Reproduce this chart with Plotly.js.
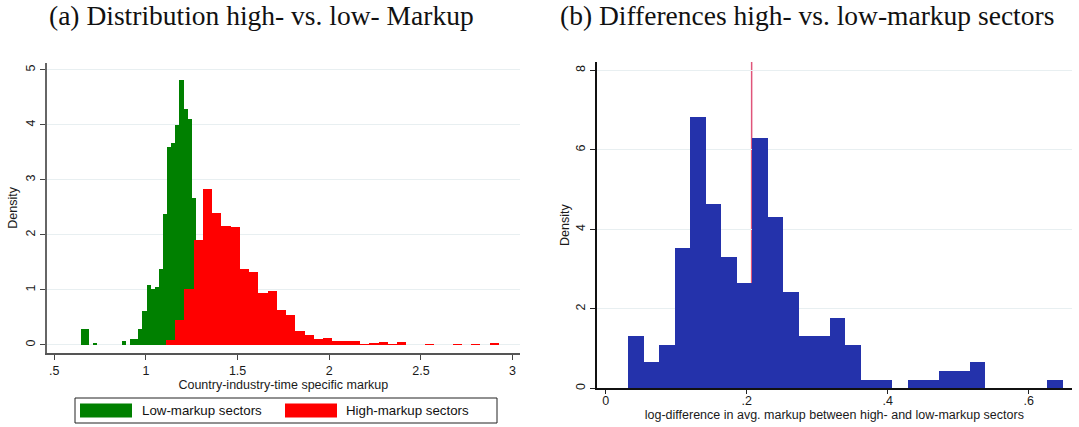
<!DOCTYPE html>
<html>
<head>
<meta charset="utf-8">
<script src="https://cdn.plot.ly/plotly-3.0.1.min.js"></script>
<style>
  html, body { margin: 0; padding: 0; background: #ffffff; }
  #chart { width: 1079px; height: 427px; }
</style>
</head>
<body>
<div id="chart"></div>
<script>
// ---- Data ----
// Panel (a): low-markup sectors histogram (density), bins start / width
const lowBinStart = 0.645;
const lowBinWidth = 0.0224;
const lowDensity = [0.297, 0.297, 0, 0.036, 0, 0, 0, 0, 0, 0, 0.073, 0, 0.109, 0.109, 0.29, 0.618,
  1.09, 1.018, 1.055, 1.38, 2.38, 3.6, 3.67, 4.0, 4.82, 4.29, 4.11, 2.67];

// Panel (a): high-markup sectors histogram (density)
const highBinStart = 1.109;
const highBinWidth = 0.05045;
const highDensity = [0.09, 0.46, 1.018, 1.91, 2.84, 2.4, 2.17, 2.145, 1.38, 1.33, 0.945, 0.99,
  0.64, 0.545, 0.255, 0.18, 0.109, 0.133, 0.073, 0.073, 0.073, 0.018, 0.036, 0.055, 0.018, 0.055,
  0, 0, 0.018, 0, 0, 0.018, 0, 0.018, 0, 0.036];

// Panel (b): log-difference histogram (density)
const diffBinStart = 0.0317;
const diffBinWidth = 0.02203;
const diffDensity = [1.317, 0.66, 1.09, 3.53, 6.83, 4.64, 3.30, 2.66, 6.30, 4.31, 2.42, 1.317,
  1.317, 1.77, 1.09, 0.21, 0.21, 0, 0.21, 0.21, 0.436, 0.436, 0.66, 0, 0, 0, 0, 0.21];
const diffMean = 0.207;

// Tick labels
const ticksA = [0.5, 1, 1.5, 2, 2.5, 3];
const tickTextA = ['.5', '1', '1.5', '2', '2.5', '3'];
const yTicksA = [0, 1, 2, 3, 4, 5];
const ticksB = [0, 0.2, 0.4, 0.6];
const tickTextB = ['0', '.2', '.4', '.6'];
const yTicksB = [0, 2, 4, 6, 8];

// Text
const titleA = '(a) Distribution high- vs. low- Markup';
const titleB = '(b) Differences high- vs. low-markup sectors';
const xTitleA = 'Country-industry-time specific markup';
const xTitleB = 'log-difference in avg. markup between high- and low-markup sectors';
const yTitle = 'Density';
const legendLabels = ['Low-markup sectors', 'High-markup sectors'];

// ---- Helpers ----
function centers(start, width, n) {
  const c = [];
  for (let i = 0; i < n; i++) c.push(start + width * (i + 0.5));
  return c;
}

const W = 1079, H = 427;
const px = x => x / W;
const py = y => 1 - y / H;

const GREEN = '#008000', RED = '#ff0000', BLUE = '#2432ab';
const SANS = 'Liberation Sans, Arial, sans-serif';
const SERIF = 'Liberation Serif, Times New Roman, serif';

const traces = [
  {
    type: 'bar', name: legendLabels[0],
    x: centers(lowBinStart, lowBinWidth, lowDensity.length), y: lowDensity,
    width: lowBinWidth, marker: { color: GREEN, line: { width: 0 } },
    xaxis: 'x', yaxis: 'y', showlegend: false, hoverinfo: 'x+y'
  },
  {
    type: 'bar', name: legendLabels[1],
    x: centers(highBinStart, highBinWidth, highDensity.length), y: highDensity,
    width: highBinWidth, marker: { color: RED, line: { width: 0 } },
    xaxis: 'x', yaxis: 'y', showlegend: false, hoverinfo: 'x+y'
  },
  {
    type: 'bar', name: 'log-difference',
    x: centers(diffBinStart, diffBinWidth, diffDensity.length), y: diffDensity,
    width: diffBinWidth, marker: { color: BLUE, line: { width: 0 } },
    xaxis: 'x2', yaxis: 'y2', showlegend: false, hoverinfo: 'x+y'
  }
];

const tickFont = { family: SANS, size: 12.5, color: '#1a1a1a' };
const titleFont = { family: SANS, size: 12.5, color: '#1a1a1a' };
const GRID = '#e8eff1';

const layout = {
  width: W, height: H,
  margin: { l: 0, r: 0, t: 0, b: 0 },
  paper_bgcolor: '#ffffff', plot_bgcolor: '#ffffff',
  barmode: 'overlay', bargap: 0,
  showlegend: false,
  xaxis: {
    domain: [px(46.7), px(520)], range: [0.4585, 3.0407], anchor: 'y',
    tickvals: ticksA, ticktext: tickTextA, tickfont: tickFont,
    ticks: 'outside', ticklen: 5, tickcolor: '#444', tickwidth: 1,
    showline: true, linecolor: '#555', linewidth: 1.3,
    showgrid: false, zeroline: false, fixedrange: true,
    title: { text: xTitleA, font: titleFont, standoff: 3 }
  },
  yaxis: {
    domain: [py(353.3), py(62.5)], range: [-0.151, 5.136], anchor: 'x',
    tickvals: yTicksA, tickfont: tickFont, tickangle: -90,
    ticks: 'outside', ticklen: 5, tickcolor: '#444', tickwidth: 1,
    showline: true, linecolor: '#666', linewidth: 1.3,
    showgrid: true, gridcolor: GRID, gridwidth: 1, zeroline: false, fixedrange: true,
    title: { text: yTitle, font: titleFont, standoff: 4 }
  },
  xaxis2: {
    domain: [px(596.7), px(1072)], range: [-0.01277, 0.6614], anchor: 'y2',
    tickvals: ticksB, ticktext: tickTextB, tickfont: tickFont,
    ticks: 'outside', ticklen: 4, tickcolor: '#222', tickwidth: 1,
    showline: true, linecolor: '#111', linewidth: 1.3,
    showgrid: false, zeroline: false, fixedrange: true,
    ticklabelstandoff: -4,
    title: { text: xTitleB, font: titleFont, standoff: 0 }
  },
  yaxis2: {
    domain: [py(388.3), py(62)], range: [0, 8.209], anchor: 'x2',
    tickvals: yTicksB, tickfont: tickFont, tickangle: -90,
    ticks: 'outside', ticklen: 5, tickcolor: '#222', tickwidth: 1,
    showline: true, linecolor: '#111', linewidth: 1.3,
    showgrid: true, gridcolor: GRID, gridwidth: 1, zeroline: false, fixedrange: true,
    title: { text: yTitle, font: titleFont, standoff: 2 }
  },
  shapes: [
    // mean line in panel (b)
    { type: 'line', xref: 'x2', yref: 'y2', x0: diffMean, x1: diffMean, y0: 0, y1: 8.209,
      line: { color: '#e0557a', width: 1.5 }, layer: 'below' },
    // legend box
    { type: 'rect', xref: 'paper', yref: 'paper', x0: px(75), x1: px(497), y0: py(423), y1: py(398),
      line: { color: '#222', width: 1 }, fillcolor: 'rgba(0,0,0,0)' },
    { type: 'rect', xref: 'paper', yref: 'paper', x0: px(80), x1: px(132), y0: py(417.5), y1: py(403.5),
      line: { width: 0 }, fillcolor: GREEN },
    { type: 'rect', xref: 'paper', yref: 'paper', x0: px(285), x1: px(337), y0: py(417.5), y1: py(403.5),
      line: { width: 0 }, fillcolor: RED }
  ],
  annotations: [
    { text: titleA, xref: 'paper', yref: 'paper', x: px(261), y: py(15), xanchor: 'center', yanchor: 'middle',
      showarrow: false, font: { family: SERIF, size: 27.5, color: '#111' } },
    { text: titleB, xref: 'paper', yref: 'paper', x: px(807), y: py(15), xanchor: 'center', yanchor: 'middle',
      showarrow: false, font: { family: SERIF, size: 27.5, color: '#111' } },
    { text: legendLabels[0], xref: 'paper', yref: 'paper', x: px(140), y: py(410.5), xanchor: 'left', yanchor: 'middle',
      showarrow: false, font: { family: SANS, size: 13.3, color: '#111' } },
    { text: legendLabels[1], xref: 'paper', yref: 'paper', x: px(344), y: py(410.5), xanchor: 'left', yanchor: 'middle',
      showarrow: false, font: { family: SANS, size: 13.3, color: '#111' } }
  ]
};

Plotly.newPlot('chart', traces, layout, { displayModeBar: false, staticPlot: true });
</script>
</body>
</html>
